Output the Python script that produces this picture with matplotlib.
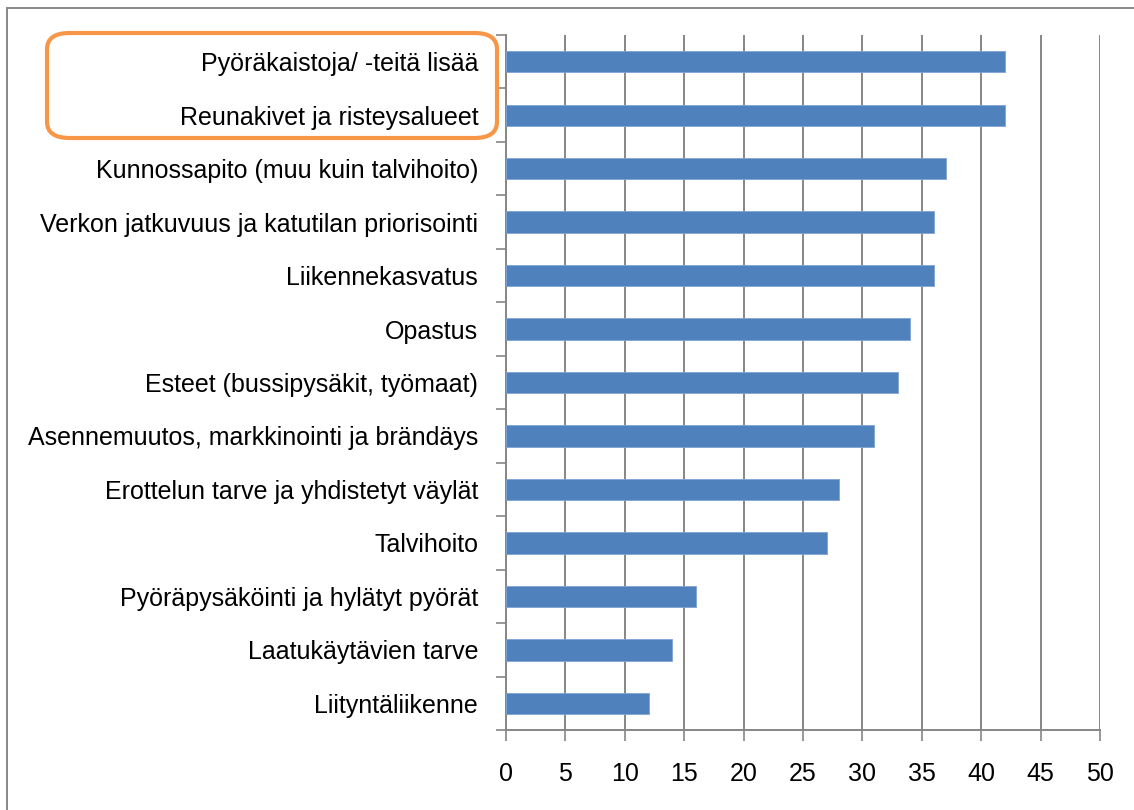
import matplotlib
matplotlib.use("Agg")
import matplotlib.pyplot as plt
from matplotlib.patches import FancyBboxPatch, Rectangle

categories = [
    "Pyöräkaistoja/ -teitä lisää",
    "Reunakivet ja risteysalueet",
    "Kunnossapito (muu kuin talvihoito)",
    "Verkon jatkuvuus ja katutilan priorisointi",
    "Liikennekasvatus",
    "Opastus",
    "Esteet (bussipysäkit, työmaat)",
    "Asennemuutos, markkinointi ja brändäys",
    "Erottelun tarve ja yhdistetyt väylät",
    "Talvihoito",
    "Pyöräpysäköinti ja hylätyt pyörät",
    "Laatukäytävien tarve",
    "Liityntäliikenne",
]
values = [42, 42, 37, 36, 36, 34, 33, 31, 28, 27, 16, 14, 12]
xticks = [0, 5, 10, 15, 20, 25, 30, 35, 40, 45, 50]

plt.rcParams['font.family'] = ['Liberation Sans Narrow', 'Liberation Sans', 'DejaVu Sans']

W, H = 1134, 810
fig = plt.figure(figsize=(W / 100, H / 100), dpi=100)
ax = fig.add_axes([506 / W, 1 - 730 / H, (1100 - 506) / W, (730 - 35) / H])

n = len(categories)
ypos = list(range(n))
ax.barh(ypos, values, height=0.4, color='#4F81BD', edgecolor='#7EA3D3', linewidth=0.6, zorder=3)
ax.set_ylim(n - 0.5, -0.5)
ax.set_xlim(0, 50)
ax.set_xticks(xticks)
ax.set_xticklabels([str(t) for t in xticks], fontsize=18)
ax.set_yticks(ypos)
ax.set_yticklabels(categories, fontsize=18)
ax.set_yticks([i - 0.5 for i in range(n + 1)], minor=True)
ax.tick_params(axis='y', which='major', length=0, pad=20)
ax.tick_params(axis='y', which='minor', length=7, color='#868686', width=1.2)
ax.tick_params(axis='x', which='major', length=8, color='#868686', width=1.2, pad=15)
ax.grid(axis='x', color='#868686', linewidth=1.4, zorder=0)
for s in ['top', 'right']:
    ax.spines[s].set_visible(False)
for s in ['left', 'bottom']:
    ax.spines[s].set_color('#868686')
    ax.spines[s].set_linewidth(1.4)

# outer chart border
fig.patches.append(Rectangle((7 / W, -0.1), 1.2, (H - 8) / H + 0.1, transform=fig.transFigure,
                             fill=False, edgecolor='#878787', linewidth=1.4))

# orange highlight box
bx0, bx1, by0, by1 = 47, 497, 33, 138
fig.patches.append(FancyBboxPatch((bx0 / W, 1 - by1 / H), (bx1 - bx0) / W, (by1 - by0) / H,
                                  boxstyle="round,pad=0,rounding_size=0.02",
                                  transform=fig.transFigure, fill=False,
                                  edgecolor='#F79646', linewidth=3, zorder=10))

fig.savefig('out.png', dpi=100)
